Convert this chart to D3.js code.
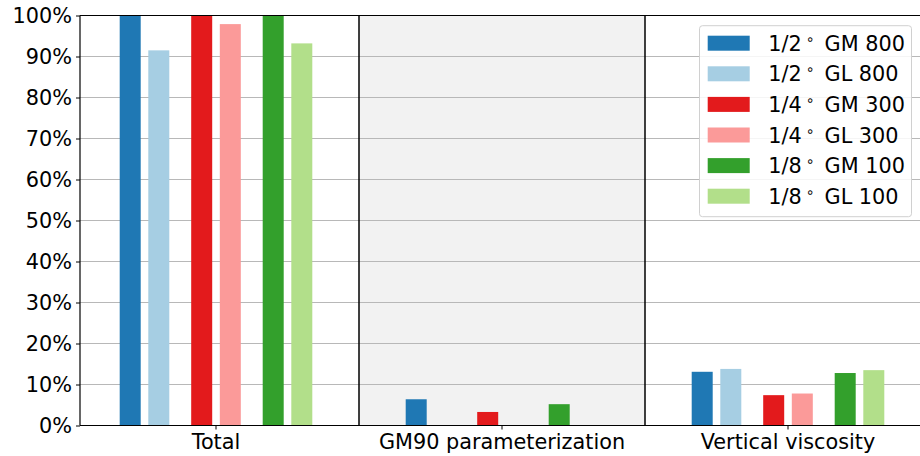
<!DOCTYPE html>
<html>
<head>
<meta charset="utf-8">
<script src="https://cdn.jsdelivr.net/npm/d3@7"></script>
<style>
  html, body { margin: 0; padding: 0; background: #fff; }
  svg { display: block; font-family: "DejaVu Sans", sans-serif; }
</style>
</head>
<body>
<svg id="chart" width="920" height="456"></svg>
<script>
// Share of energy dissipation by component, per model configuration
const groups = ["Total", "GM90 parameterization", "Vertical viscosity"];
const resolutions = ["1/2", "1/4", "1/8"];
const depths = ["800", "300", "100"];
const kinds = ["GM", "GL"];

// values in percent, one array per series, ordered as groups
const gm800 = [100, 6.4, 13.1];
const gl800 = [91.5, null, 13.8];
const gm300 = [100, 3.3, 7.4];
const gl300 = [97.9, null, 7.8];
const gm100 = [100, 5.2, 12.8];
const gl100 = [93.2, null, 13.5];

const seriesValues = [gm800, gl800, gm300, gl300, gm100, gl100];
const colors = ["#1f78b4", "#a6cee3", "#e31a1c", "#fb9a99", "#33a02c", "#b2df8a"];
const yTicks = [0, 10, 20, 30, 40, 50, 60, 70, 80, 90, 100];

const series = [];
resolutions.forEach((r, i) => {
  kinds.forEach((k, j) => {
    const idx = i * 2 + j;
    series.push({
      res: r, kind: k, depth: depths[i],
      color: colors[idx], values: seriesValues[idx]
    });
  });
});

const FS = 20.8;
const svg = d3.select("#chart");
const plot = { left: 80, top: 15.5, bottom: 425.5 };
const W = 920;

const x = d3.scaleBand().domain(groups).range([73, 931]).padding(0);
const xRes = d3.scalePoint().domain(resolutions).range([-71.5, 71.5]);
const xKind = d3.scalePoint().domain(kinds).range([-14.3, 14.3]);
const barW = 21;
const y = d3.scaleLinear().domain([0, 100]).range([plot.bottom, plot.top]);

svg.append("defs").append("clipPath").attr("id", "plotclip")
  .append("rect").attr("x", plot.left).attr("y", plot.top)
  .attr("width", W - plot.left).attr("height", plot.bottom - plot.top);

const inner = svg.append("g").attr("clip-path", "url(#plotclip)");

// shaded middle panel
inner.append("rect")
  .attr("x", x(groups[1])).attr("y", plot.top)
  .attr("width", x.bandwidth()).attr("height", plot.bottom - plot.top)
  .attr("fill", "#f2f2f2");

// horizontal grid
inner.append("g").selectAll("line").data(yTicks).join("line")
  .attr("x1", plot.left).attr("x2", W)
  .attr("y1", d => y(d)).attr("y2", d => y(d))
  .attr("stroke", "#b8b8b8").attr("stroke-width", 1);

// bars
series.forEach(s => {
  const data = groups.map((g, gi) => ({ g, v: s.values[gi] })).filter(d => d.v != null);
  inner.append("g").selectAll("rect").data(data).join("rect")
    .attr("x", d => x(d.g) + x.bandwidth() / 2 + xRes(s.res) + xKind(s.kind) - barW / 2)
    .attr("y", d => y(d.v))
    .attr("width", barW)
    .attr("height", d => y(0) - y(d.v))
    .attr("fill", s.color);
});

// panel separators
inner.append("g").selectAll("line").data(groups.slice(1)).join("line")
  .attr("x1", d => x(d)).attr("x2", d => x(d))
  .attr("y1", plot.top).attr("y2", plot.bottom)
  .attr("stroke", "#000").attr("stroke-width", 1.5);

// axes
const yAxis = d3.axisLeft(y).tickValues(yTicks).tickFormat(d => d + "%").tickSize(4).tickPadding(4);
const gy = svg.append("g").attr("transform", `translate(${plot.left},0)`).call(yAxis);
gy.select(".domain").remove();
gy.selectAll("text").attr("font-size", FS).attr("fill", "#000").attr("font-family", "DejaVu Sans");
gy.selectAll("line").attr("stroke", "#000").attr("stroke-width", 1);

const xAxis = d3.axisBottom(x).tickSize(4).tickPadding(5);
const gx = svg.append("g").attr("transform", `translate(0,${plot.bottom})`).call(xAxis);
gx.select(".domain").remove();
gx.selectAll("text").attr("font-size", FS).attr("fill", "#000").attr("font-family", "DejaVu Sans");
gx.selectAll("line").attr("stroke", "#000").attr("stroke-width", 1);

// spines
const spines = svg.append("g").attr("stroke", "#000").attr("stroke-width", 1.2);
spines.append("line").attr("x1", plot.left).attr("x2", W).attr("y1", plot.top).attr("y2", plot.top);
spines.append("line").attr("x1", plot.left).attr("x2", W).attr("y1", plot.bottom).attr("y2", plot.bottom);
spines.append("line").attr("x1", plot.left).attr("x2", plot.left).attr("y1", plot.top).attr("y2", plot.bottom);

// legend
const lg = svg.append("g").attr("transform", "translate(699.5,25.7)");
lg.append("rect").attr("width", 212).attr("height", 191).attr("rx", 3)
  .attr("fill", "#fff").attr("fill-opacity", 0.85).attr("stroke", "#d0d0d0");
const rows = lg.selectAll("g.row").data(series).join("g")
  .attr("transform", (d, i) => `translate(0,${17.5 + i * 30.6})`);
rows.append("rect").attr("x", 8.2).attr("y", -7.5).attr("width", 42).attr("height", 15)
  .attr("fill", d => d.color);
const t = rows.append("text").attr("x", 68.8).attr("y", 7.5)
  .attr("font-size", FS).attr("fill", "#000");
t.append("tspan").text(d => d.res);
t.append("tspan").attr("dx", 4).attr("font-size", 14).attr("dy", -7).text("\u2218");
t.append("tspan").attr("dx", 10).attr("dy", 7).text(d => d.kind + " " + d.depth);
</script>
</body>
</html>
